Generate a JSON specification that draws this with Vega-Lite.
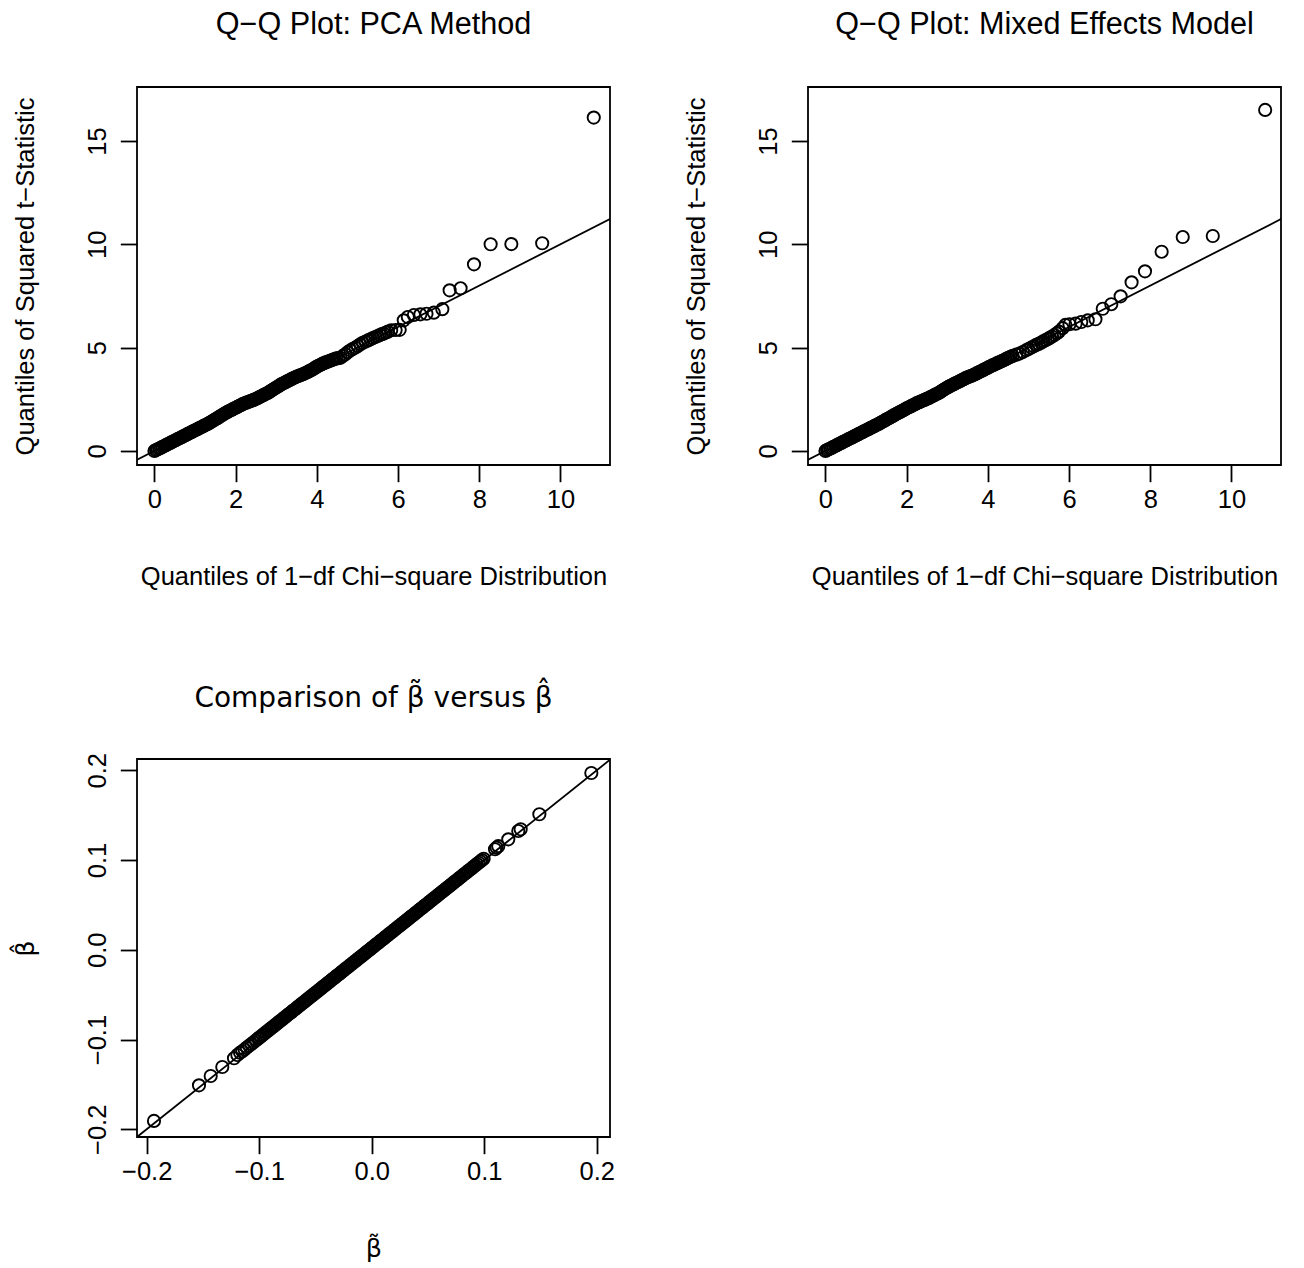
{
"$schema":"https://vega.github.io/schema/vega-lite/v6.json",
"background":"white",
"padding":{"left":12,"top":9,"right":0,"bottom":0},
"config":{
 "font":"Liberation Sans",
 "view":{"stroke":"black","strokeWidth":1.8},
 "axis":{"grid":false,"domain":false,"ticks":true,"tickColor":"black","tickWidth":1.8,"tickSize":16.7,"labelFontSize":25.5,"labelColor":"black","titleFontSize":25.5,"titleFontWeight":"normal","titleColor":"black","labelFont":"Liberation Sans","titleFont":"Liberation Sans"},
 "axisX":{"labelPadding":6,"titlePadding":51.5},
 "axisY":{"labelPadding":10,"titlePadding":47.3,"labelAngle":-90,"labelAlign":"center","labelBaseline":"bottom"},
 "title":{"fontSize":30.6,"fontWeight":"normal","color":"black","anchor":"middle","baseline":"bottom","offset":46.5,"frame":"group","font":"Liberation Sans"}
},
"datasets":{
 "pca":[{"x":0,"y":0},{"x":0.04,"y":0.04},{"x":0.08,"y":0.08},{"x":0.12,"y":0.12},{"x":0.16,"y":0.16},{"x":0.2,"y":0.2},{"x":0.24,"y":0.24},{"x":0.28,"y":0.28},{"x":0.32,"y":0.32},{"x":0.36,"y":0.36},{"x":0.4,"y":0.4},{"x":0.44,"y":0.44},{"x":0.48,"y":0.48},{"x":0.52,"y":0.52},{"x":0.56,"y":0.56},{"x":0.6,"y":0.6},{"x":0.64,"y":0.64},{"x":0.68,"y":0.68},{"x":0.72,"y":0.72},{"x":0.76,"y":0.76},{"x":0.8,"y":0.8},{"x":0.84,"y":0.84},{"x":0.88,"y":0.88},{"x":0.92,"y":0.92},{"x":0.96,"y":0.96},{"x":1.0,"y":1.0},{"x":1.04,"y":1.04},{"x":1.08,"y":1.08},{"x":1.12,"y":1.12},{"x":1.16,"y":1.16},{"x":1.2,"y":1.2},{"x":1.24,"y":1.24},{"x":1.28,"y":1.28},{"x":1.32,"y":1.32},{"x":1.36,"y":1.36},
 {"x":1.40,"y":1.41},{"x":1.44,"y":1.46},{"x":1.48,"y":1.51},{"x":1.52,"y":1.56},{"x":1.56,"y":1.60},{"x":1.60,"y":1.65},{"x":1.64,"y":1.70},{"x":1.68,"y":1.75},{"x":1.72,"y":1.80},{"x":1.76,"y":1.85},{"x":1.80,"y":1.89},{"x":1.84,"y":1.93},{"x":1.88,"y":1.97},{"x":1.92,"y":2.01},{"x":1.96,"y":2.05},{"x":2.00,"y":2.09},{"x":2.04,"y":2.13},{"x":2.08,"y":2.17},{"x":2.12,"y":2.21},{"x":2.16,"y":2.25},{"x":2.20,"y":2.29},{"x":2.24,"y":2.32},{"x":2.28,"y":2.35},{"x":2.32,"y":2.38},{"x":2.36,"y":2.41},{"x":2.40,"y":2.44},{"x":2.44,"y":2.47},{"x":2.48,"y":2.50},{"x":2.52,"y":2.54},{"x":2.56,"y":2.58},{"x":2.60,"y":2.62},{"x":2.64,"y":2.66},{"x":2.68,"y":2.70},{"x":2.72,"y":2.74},{"x":2.76,"y":2.78},{"x":2.80,"y":2.82},{"x":2.84,"y":2.87},{"x":2.88,"y":2.92},{"x":2.92,"y":2.97},{"x":2.96,"y":3.02},{"x":3.00,"y":3.07},{"x":3.04,"y":3.12},{"x":3.08,"y":3.17},{"x":3.12,"y":3.22},{"x":3.16,"y":3.26},{"x":3.20,"y":3.30},{"x":3.24,"y":3.34},{"x":3.28,"y":3.38},{"x":3.32,"y":3.42},{"x":3.36,"y":3.46},{"x":3.40,"y":3.50},{"x":3.44,"y":3.54},{"x":3.48,"y":3.58},{"x":3.52,"y":3.61},{"x":3.56,"y":3.64},{"x":3.60,"y":3.67},{"x":3.64,"y":3.70},{"x":3.68,"y":3.73},{"x":3.72,"y":3.77},{"x":3.76,"y":3.81},{"x":3.80,"y":3.85},{"x":3.84,"y":3.89},{"x":3.88,"y":3.93},{"x":3.92,"y":3.98},{"x":3.96,"y":4.03},{"x":4.00,"y":4.08},{"x":4.04,"y":4.12},{"x":4.08,"y":4.16},{"x":4.12,"y":4.20},{"x":4.16,"y":4.24},{"x":4.20,"y":4.27},{"x":4.24,"y":4.30},{"x":4.28,"y":4.33},{"x":4.32,"y":4.36},{"x":4.36,"y":4.39},{"x":4.40,"y":4.42},{"x":4.44,"y":4.45},{"x":4.48,"y":4.48},
 {"x":4.53,"y":4.49},{"x":4.58,"y":4.51},{"x":4.64,"y":4.60},{"x":4.70,"y":4.68},{"x":4.76,"y":4.78},{"x":4.83,"y":4.87},{"x":4.89,"y":4.94},{"x":4.95,"y":5.00},{"x":5.01,"y":5.08},{"x":5.07,"y":5.16},{"x":5.13,"y":5.23},{"x":5.20,"y":5.29},{"x":5.26,"y":5.35},{"x":5.32,"y":5.40},{"x":5.38,"y":5.46},{"x":5.44,"y":5.51},{"x":5.50,"y":5.56},{"x":5.55,"y":5.61},{"x":5.60,"y":5.65},{"x":5.65,"y":5.68},{"x":5.70,"y":5.73},{"x":5.75,"y":5.77},{"x":5.83,"y":5.84},{"x":5.94,"y":5.85},{"x":6.04,"y":5.86},{"x":6.14,"y":6.32},{"x":6.24,"y":6.48},{"x":6.39,"y":6.58},{"x":6.55,"y":6.61},{"x":6.70,"y":6.64},{"x":6.88,"y":6.69},{"x":7.09,"y":6.86},{"x":7.27,"y":7.77},{"x":7.54,"y":7.87},{"x":7.87,"y":9.03},{"x":8.28,"y":10.0},{"x":8.79,"y":10.01},{"x":9.55,"y":10.05},{"x":10.82,"y":16.13}],
 "mixed":[{"x":0,"y":0},{"x":0.04,"y":0.04},{"x":0.08,"y":0.08},{"x":0.12,"y":0.12},{"x":0.16,"y":0.16},{"x":0.2,"y":0.2},{"x":0.24,"y":0.24},{"x":0.28,"y":0.28},{"x":0.32,"y":0.32},{"x":0.36,"y":0.36},{"x":0.4,"y":0.4},{"x":0.44,"y":0.44},{"x":0.48,"y":0.48},{"x":0.52,"y":0.52},{"x":0.56,"y":0.56},{"x":0.6,"y":0.6},{"x":0.64,"y":0.64},{"x":0.68,"y":0.68},{"x":0.72,"y":0.72},{"x":0.76,"y":0.76},{"x":0.8,"y":0.8},{"x":0.84,"y":0.84},{"x":0.88,"y":0.88},{"x":0.92,"y":0.92},{"x":0.96,"y":0.96},{"x":1.0,"y":1.0},{"x":1.04,"y":1.04},{"x":1.08,"y":1.08},{"x":1.12,"y":1.12},{"x":1.16,"y":1.16},{"x":1.2,"y":1.2},{"x":1.24,"y":1.24},{"x":1.28,"y":1.28},{"x":1.32,"y":1.32},{"x":1.36,"y":1.36},
 {"x":1.40,"y":1.41},{"x":1.44,"y":1.45},{"x":1.48,"y":1.50},{"x":1.52,"y":1.54},{"x":1.56,"y":1.58},{"x":1.60,"y":1.63},{"x":1.64,"y":1.67},{"x":1.68,"y":1.72},{"x":1.72,"y":1.76},{"x":1.76,"y":1.81},{"x":1.80,"y":1.85},{"x":1.84,"y":1.89},{"x":1.88,"y":1.93},{"x":1.92,"y":1.97},{"x":1.96,"y":2.02},{"x":2.00,"y":2.06},{"x":2.04,"y":2.10},{"x":2.08,"y":2.14},{"x":2.12,"y":2.18},{"x":2.16,"y":2.22},{"x":2.20,"y":2.26},{"x":2.24,"y":2.30},{"x":2.28,"y":2.34},{"x":2.32,"y":2.37},{"x":2.36,"y":2.40},{"x":2.40,"y":2.44},{"x":2.44,"y":2.47},{"x":2.48,"y":2.51},{"x":2.52,"y":2.54},{"x":2.56,"y":2.58},{"x":2.60,"y":2.62},{"x":2.64,"y":2.66},{"x":2.68,"y":2.70},{"x":2.72,"y":2.74},{"x":2.76,"y":2.78},{"x":2.80,"y":2.82},{"x":2.84,"y":2.87},{"x":2.88,"y":2.92},{"x":2.92,"y":2.97},{"x":2.96,"y":3.02},{"x":3.00,"y":3.07},{"x":3.04,"y":3.11},{"x":3.08,"y":3.15},{"x":3.12,"y":3.19},{"x":3.16,"y":3.23},{"x":3.20,"y":3.27},{"x":3.24,"y":3.31},{"x":3.28,"y":3.35},{"x":3.32,"y":3.39},{"x":3.36,"y":3.43},{"x":3.40,"y":3.47},{"x":3.44,"y":3.51},{"x":3.48,"y":3.55},{"x":3.52,"y":3.58},{"x":3.56,"y":3.61},{"x":3.60,"y":3.64},{"x":3.64,"y":3.67},{"x":3.68,"y":3.71},{"x":3.72,"y":3.75},{"x":3.76,"y":3.79},{"x":3.80,"y":3.83},{"x":3.84,"y":3.87},{"x":3.88,"y":3.91},{"x":3.92,"y":3.95},{"x":3.96,"y":3.99},{"x":4.00,"y":4.03},{"x":4.04,"y":4.07},{"x":4.08,"y":4.11},{"x":4.12,"y":4.15},{"x":4.16,"y":4.18},{"x":4.20,"y":4.22},{"x":4.24,"y":4.26},{"x":4.28,"y":4.29},{"x":4.32,"y":4.33},{"x":4.36,"y":4.36},{"x":4.40,"y":4.40},{"x":4.44,"y":4.44},{"x":4.48,"y":4.48},{"x":4.52,"y":4.52},{"x":4.56,"y":4.56},
 {"x":4.61,"y":4.60},{"x":4.70,"y":4.66},{"x":4.78,"y":4.71},{"x":4.86,"y":4.79},{"x":4.94,"y":4.87},{"x":5.00,"y":4.93},{"x":5.07,"y":5.00},{"x":5.13,"y":5.06},{"x":5.19,"y":5.13},{"x":5.25,"y":5.18},{"x":5.31,"y":5.24},{"x":5.36,"y":5.30},{"x":5.42,"y":5.36},{"x":5.48,"y":5.42},{"x":5.53,"y":5.48},{"x":5.58,"y":5.54},{"x":5.64,"y":5.61},{"x":5.70,"y":5.69},{"x":5.75,"y":5.77},{"x":5.84,"y":5.94},{"x":5.91,"y":6.10},{"x":6.01,"y":6.13},{"x":6.16,"y":6.16},{"x":6.30,"y":6.24},{"x":6.46,"y":6.32},{"x":6.65,"y":6.37},{"x":6.83,"y":6.88},{"x":7.04,"y":7.10},{"x":7.27,"y":7.48},{"x":7.54,"y":8.16},{"x":7.87,"y":8.69},{"x":8.28,"y":9.64},{"x":8.80,"y":10.35},{"x":9.54,"y":10.40},{"x":10.83,"y":16.50}],
 "beta":[{"x":-0.1935,"y":-0.1907},{"x":-0.1535,"y":-0.1510},{"x":-0.1431,"y":-0.1406},{"x":-0.1328,"y":-0.1306},{"x":-0.1224,"y":-0.1209},{"x":-0.1194,"y":-0.1172},{"x":-0.1170,"y":-0.1146},
 {"x":-0.1150,"y":-0.1130},{"x":-0.1130,"y":-0.1110},{"x":-0.1110,"y":-0.1090},{"x":-0.1090,"y":-0.1070},{"x":-0.1070,"y":-0.1050},{"x":-0.1050,"y":-0.1030},{"x":-0.1030,"y":-0.1010},{"x":-0.1010,"y":-0.0990},
 {"x":-0.1000,"y":-0.0980},{"x":-0.0985,"y":-0.0965},{"x":-0.0970,"y":-0.0950},{"x":-0.0955,"y":-0.0935},{"x":-0.0940,"y":-0.0920},{"x":-0.0925,"y":-0.0905},{"x":-0.0910,"y":-0.0890},{"x":-0.0895,"y":-0.0875},{"x":-0.0880,"y":-0.0860},{"x":-0.0865,"y":-0.0845},{"x":-0.0850,"y":-0.0830},{"x":-0.0835,"y":-0.0815},{"x":-0.0820,"y":-0.0800},{"x":-0.0805,"y":-0.0785},{"x":-0.0790,"y":-0.0770},{"x":-0.0775,"y":-0.0755},{"x":-0.0760,"y":-0.0740},{"x":-0.0745,"y":-0.0725},{"x":-0.0730,"y":-0.0710},{"x":-0.0715,"y":-0.0695},{"x":-0.0700,"y":-0.0680},{"x":-0.0685,"y":-0.0665},{"x":-0.0670,"y":-0.0650},{"x":-0.0655,"y":-0.0635},{"x":-0.0640,"y":-0.0620},{"x":-0.0625,"y":-0.0605},{"x":-0.0610,"y":-0.0590},{"x":-0.0595,"y":-0.0575},{"x":-0.0580,"y":-0.0560},{"x":-0.0565,"y":-0.0545},{"x":-0.0550,"y":-0.0530},{"x":-0.0535,"y":-0.0515},{"x":-0.0520,"y":-0.0500},{"x":-0.0505,"y":-0.0485},{"x":-0.0490,"y":-0.0470},{"x":-0.0475,"y":-0.0455},{"x":-0.0460,"y":-0.0440},{"x":-0.0445,"y":-0.0425},{"x":-0.0430,"y":-0.0410},{"x":-0.0415,"y":-0.0395},{"x":-0.0400,"y":-0.0380},{"x":-0.0385,"y":-0.0365},{"x":-0.0370,"y":-0.0350},{"x":-0.0355,"y":-0.0335},{"x":-0.0340,"y":-0.0320},{"x":-0.0325,"y":-0.0305},{"x":-0.0310,"y":-0.0290},{"x":-0.0295,"y":-0.0275},{"x":-0.0280,"y":-0.0260},{"x":-0.0265,"y":-0.0245},{"x":-0.0250,"y":-0.0230},{"x":-0.0235,"y":-0.0215},{"x":-0.0220,"y":-0.0200},{"x":-0.0205,"y":-0.0185},{"x":-0.0190,"y":-0.0170},{"x":-0.0175,"y":-0.0155},{"x":-0.0160,"y":-0.0140},{"x":-0.0145,"y":-0.0125},{"x":-0.0130,"y":-0.0110},{"x":-0.0115,"y":-0.0095},{"x":-0.0100,"y":-0.0080},{"x":-0.0085,"y":-0.0065},{"x":-0.0070,"y":-0.0050},{"x":-0.0055,"y":-0.0035},{"x":-0.0040,"y":-0.0020},{"x":-0.0025,"y":-0.0005},{"x":-0.0010,"y":0.0010},{"x":0.0005,"y":0.0025},{"x":0.0020,"y":0.0040},{"x":0.0035,"y":0.0055},{"x":0.0050,"y":0.0070},{"x":0.0065,"y":0.0085},{"x":0.0080,"y":0.0100},{"x":0.0095,"y":0.0115},{"x":0.0110,"y":0.0130},{"x":0.0125,"y":0.0145},{"x":0.0140,"y":0.0160},{"x":0.0155,"y":0.0175},{"x":0.0170,"y":0.0190},{"x":0.0185,"y":0.0205},{"x":0.0200,"y":0.0220},{"x":0.0215,"y":0.0235},{"x":0.0230,"y":0.0250},{"x":0.0245,"y":0.0265},{"x":0.0260,"y":0.0280},{"x":0.0275,"y":0.0295},{"x":0.0290,"y":0.0310},{"x":0.0305,"y":0.0325},{"x":0.0320,"y":0.0340},{"x":0.0335,"y":0.0355},{"x":0.0350,"y":0.0370},{"x":0.0365,"y":0.0385},{"x":0.0380,"y":0.0400},{"x":0.0395,"y":0.0415},{"x":0.0410,"y":0.0430},{"x":0.0425,"y":0.0445},{"x":0.0440,"y":0.0460},{"x":0.0455,"y":0.0475},{"x":0.0470,"y":0.0490},{"x":0.0485,"y":0.0505},{"x":0.0500,"y":0.0520},{"x":0.0515,"y":0.0535},{"x":0.0530,"y":0.0550},{"x":0.0545,"y":0.0565},{"x":0.0560,"y":0.0580},{"x":0.0575,"y":0.0595},{"x":0.0590,"y":0.0610},{"x":0.0605,"y":0.0625},{"x":0.0620,"y":0.0640},{"x":0.0635,"y":0.0655},{"x":0.0650,"y":0.0670},{"x":0.0665,"y":0.0685},{"x":0.0680,"y":0.0700},{"x":0.0695,"y":0.0715},{"x":0.0710,"y":0.0730},{"x":0.0725,"y":0.0745},{"x":0.0740,"y":0.0760},{"x":0.0755,"y":0.0775},{"x":0.0770,"y":0.0790},{"x":0.0785,"y":0.0805},{"x":0.0800,"y":0.0820},{"x":0.0815,"y":0.0835},{"x":0.0830,"y":0.0850},{"x":0.0845,"y":0.0865},{"x":0.0860,"y":0.0880},{"x":0.0875,"y":0.0895},{"x":0.0890,"y":0.0910},{"x":0.0905,"y":0.0925},{"x":0.0920,"y":0.0940},{"x":0.0935,"y":0.0955},{"x":0.0950,"y":0.0970},{"x":0.0965,"y":0.0985},{"x":0.0980,"y":0.1000},{"x":0.0995,"y":0.1015},
 {"x":0.1096,"y":0.1120},{"x":0.1110,"y":0.1138},{"x":0.1125,"y":0.1155},{"x":0.1214,"y":0.1231},{"x":0.1303,"y":0.1324},{"x":0.1324,"y":0.1343},{"x":0.1490,"y":0.1510},{"x":0.1952,"y":0.1970}],
 "diagA":[{"x":-1,"y":-1},{"x":12,"y":12}],
 "diagB":[{"x":-0.3,"y":-0.3},{"x":0.3,"y":0.3}]
},
"columns":2,
"spacing":{"row":294,"column":198},
"bounds":"flush",
"concat":[
 {"width":473,"height":378,
  "title":{"text":"Q−Q Plot: PCA Method"},
  "encoding":{
   "x":{"field":"x","type":"quantitative","scale":{"domain":[-0.43,11.22],"nice":false,"zero":false},"axis":{"values":[0,2,4,6,8,10],"format":"d","title":"Quantiles of 1−df Chi−square Distribution"}},
   "y":{"field":"y","type":"quantitative","scale":{"domain":[-0.68,17.61],"nice":false,"zero":false},"axis":{"values":[0,5,10,15],"format":"d","title":"Quantiles of Squared t−Statistic"}}
  },
  "layer":[
   {"data":{"name":"pca"},"mark":{"type":"point","shape":"circle","filled":false,"stroke":"black","strokeWidth":1.9,"size":150,"opacity":1}},
   {"data":{"name":"diagA"},"mark":{"type":"line","color":"black","strokeWidth":1.8,"clip":true}}
  ]},
 {"width":473,"height":378,
  "title":{"text":"Q−Q Plot: Mixed Effects Model"},
  "encoding":{
   "x":{"field":"x","type":"quantitative","scale":{"domain":[-0.43,11.22],"nice":false,"zero":false},"axis":{"values":[0,2,4,6,8,10],"format":"d","title":"Quantiles of 1−df Chi−square Distribution"}},
   "y":{"field":"y","type":"quantitative","scale":{"domain":[-0.68,17.61],"nice":false,"zero":false},"axis":{"values":[0,5,10,15],"format":"d","title":"Quantiles of Squared t−Statistic"}}
  },
  "layer":[
   {"data":{"name":"mixed"},"mark":{"type":"point","shape":"circle","filled":false,"stroke":"black","strokeWidth":1.9,"size":150,"opacity":1}},
   {"data":{"name":"diagA"},"mark":{"type":"line","color":"black","strokeWidth":1.8,"clip":true}}
  ]},
 {"width":473,"height":378,
  "title":{"text":"Comparison of β̃ versus β̂","offset":40,"font":"DejaVu Sans","fontSize":28},
  "encoding":{
   "x":{"field":"x","type":"quantitative","scale":{"domain":[-0.2086,0.2118],"nice":false,"zero":false},"axis":{"values":[-0.2,-0.1,0,0.1,0.2],"format":".1f","title":"β̃","titleFont":"DejaVu Sans"}},
   "y":{"field":"y","type":"quantitative","scale":{"domain":[-0.2086,0.2126],"nice":false,"zero":false},"axis":{"values":[-0.2,-0.1,0,0.1,0.2],"format":".1f","title":"β̂","titleFont":"DejaVu Sans"}}
  },
  "layer":[
   {"data":{"name":"beta"},"mark":{"type":"point","shape":"circle","filled":false,"stroke":"black","strokeWidth":1.9,"size":150,"opacity":1}},
   {"data":{"name":"diagB"},"mark":{"type":"line","color":"black","strokeWidth":1.8,"clip":true}}
  ]}
]
}
